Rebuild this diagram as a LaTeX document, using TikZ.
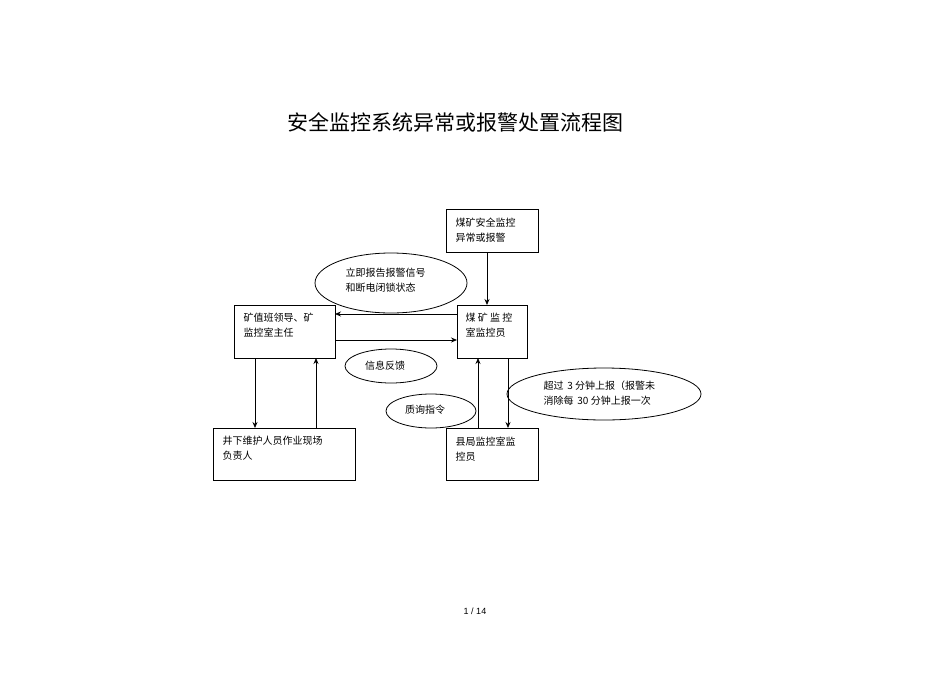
\documentclass[tikz,border=0pt]{standalone}
\usepackage{fontspec}
\newfontfamily\cjk{Noto Sans CJK SC}
\setmainfont{Liberation Sans}
\usetikzlibrary{arrows.meta}
\begin{document}
\begin{tikzpicture}[x=1pt,y=-1pt,
  box/.style={draw,thick,inner sep=0},
  oval/.style={draw,thick},
  lbl/.style={font=\cjk\fontsize{10}{15}\selectfont,align=left,anchor=north west},
  arr/.style={thick,-{Stealth[length=6pt,width=5pt]}}]
\useasboundingbox (0,0) rectangle (950,672);
\node[font=\cjk\fontsize{21}{24}\selectfont] (title) at (455,122) {安全监控系统异常或报警处置流程图};
\draw[box] (446,209) rectangle (538,252);
\node[lbl] (t1) at (452,214) {煤矿安全监控\\异常或报警};
\draw[box] (457,305) rectangle (527,358);
\node[lbl] (t2) at (462,310) {煤 矿 监 控\\室监控员};
\draw[box] (234,305) rectangle (335,358);
\node[lbl] (t3) at (240,310) {矿值班领导、矿\\监控室主任};
\draw[box] (213,428) rectangle (355,480);
\node[lbl] (t4) at (219,433) {井下维护人员作业现场\\负责人};
\draw[box] (446,428) rectangle (538,480);
\node[lbl] (t5) at (452,433) {县局监控室监\\控员};
\draw[oval] (391,283) ellipse [x radius=76,y radius=30];
\node[lbl] (e1) at (342,265) {立即报告报警信号\\和断电闭锁状态};
\draw[oval] (391,366) ellipse [x radius=46,y radius=17];
\node[font=\cjk\fontsize{10}{12}\selectfont] (e2) at (385,366) {信息反馈};
\draw[oval] (431,411) ellipse [x radius=45,y radius=17];
\node[font=\cjk\fontsize{10}{12}\selectfont] (e3) at (425,410) {质询指令};
\draw[oval] (604,394) ellipse [x radius=97,y radius=26];
\node[lbl] (e4) at (540,377) {超过\ \,3 分钟上报（报警未\\消除每\ \,30 分钟上报一次};
\coordinate (a1) at (487,252); \coordinate (a2) at (487,305);
\draw[arr] (a1) -- (a2);
\coordinate (c1) at (457,314); \coordinate (c2) at (335,314);
\draw[arr] (c1) -- (c2);
\coordinate (d1) at (335,340); \coordinate (d2) at (457,340);
\draw[arr] (d1) -- (d2);
\coordinate (f1) at (255,358); \coordinate (f2) at (255,428);
\draw[arr] (f1) -- (f2);
\coordinate (g1) at (316,428); \coordinate (g2) at (316,358);
\draw[arr] (g1) -- (g2);
\coordinate (h1) at (478,428); \coordinate (h2) at (478,358);
\draw[arr] (h1) -- (h2);
\coordinate (k1) at (508,358); \coordinate (k2) at (508,428);
\draw[arr] (k1) -- (k2);
\node[font=\fontsize{9}{10}\selectfont] (pg) at (475,611) {1 / 14};
\end{tikzpicture}
\end{document}
